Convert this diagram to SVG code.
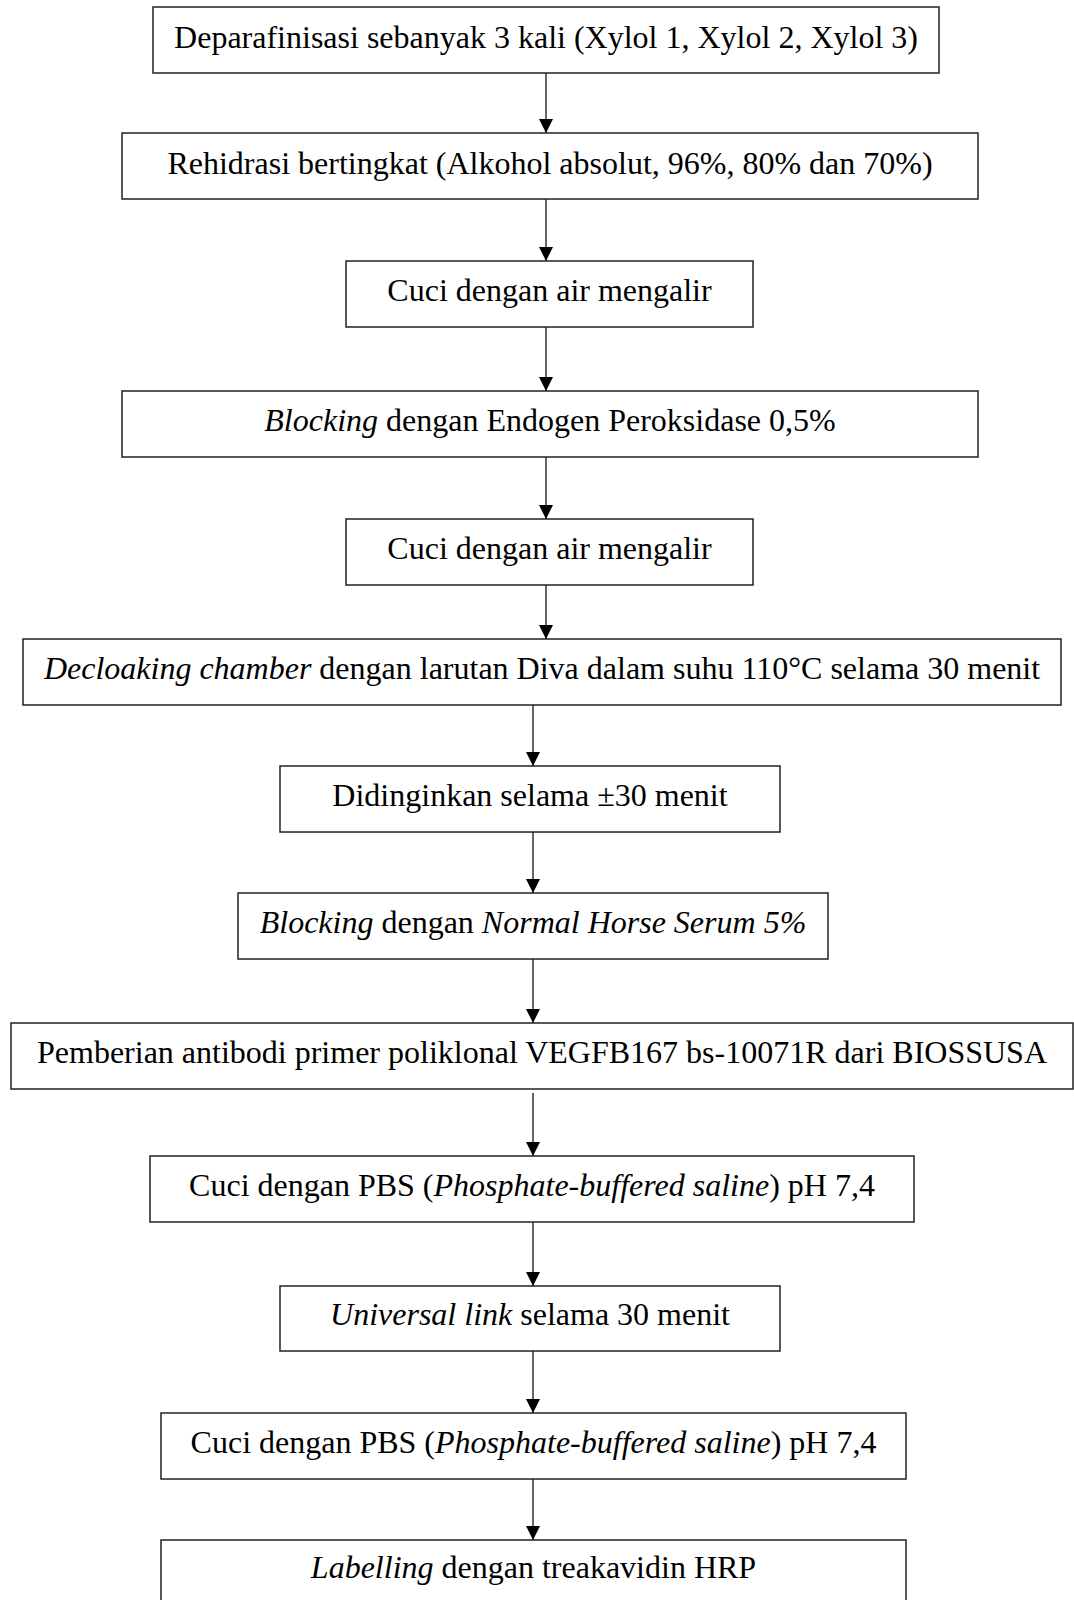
<svg xmlns="http://www.w3.org/2000/svg" width="1074" height="1600" viewBox="0 0 1074 1600">
<style>
.box{fill:#fff;stroke:#222;stroke-width:1.5}
.t{font-family:"Liberation Serif","Times New Roman",serif;font-size:32px;fill:#000;text-anchor:middle}
.i{font-style:italic}
.c{stroke:#000;stroke-width:1.2;fill:none;marker-end:url(#ah)}
</style>
<defs>
<marker id="ah" markerUnits="userSpaceOnUse" markerWidth="16" markerHeight="16" refX="14" refY="7" orient="auto">
<path d="M0,0 L14,7 L0,14 z" fill="#000"/>
</marker>
</defs>
<rect width="1074" height="1600" fill="#fff"/>
<g id="connectors">
<line class="c" x1="546" y1="73" x2="546" y2="133"/>
<line class="c" x1="546" y1="199" x2="546" y2="261"/>
<line class="c" x1="546" y1="327" x2="546" y2="391"/>
<line class="c" x1="546" y1="457" x2="546" y2="519"/>
<line class="c" x1="546" y1="585" x2="546" y2="639"/>
<line class="c" x1="533" y1="705" x2="533" y2="766"/>
<line class="c" x1="533" y1="832" x2="533" y2="893"/>
<line class="c" x1="533" y1="959" x2="533" y2="1023"/>
<line class="c" x1="533" y1="1093" x2="533" y2="1156"/>
<line class="c" x1="533" y1="1222" x2="533" y2="1286"/>
<line class="c" x1="533" y1="1351" x2="533" y2="1413"/>
<line class="c" x1="533" y1="1479" x2="533" y2="1540"/>
</g>
<g id="n1"><rect class="box" x="153" y="7" width="786" height="66"/><text class="t" x="546" y="48">Deparafinisasi sebanyak 3 kali (Xylol 1, Xylol 2, Xylol 3)</text></g>
<g id="n2"><rect class="box" x="122" y="133" width="856" height="66"/><text class="t" x="550" y="174">Rehidrasi bertingkat (Alkohol absolut, 96%, 80% dan 70%)</text></g>
<g id="n3"><rect class="box" x="346" y="261" width="407" height="66"/><text class="t" x="549.5" y="301">Cuci dengan air mengalir</text></g>
<g id="n4"><rect class="box" x="122" y="391" width="856" height="66"/><text class="t" x="550" y="431"><tspan class="i">Blocking</tspan> dengan Endogen Peroksidase 0,5%</text></g>
<g id="n5"><rect class="box" x="346" y="519" width="407" height="66"/><text class="t" x="549.5" y="559">Cuci dengan air mengalir</text></g>
<g id="n6"><rect class="box" x="23" y="639" width="1038" height="66"/><text class="t" x="542" y="679"><tspan class="i">Decloaking chamber</tspan> dengan larutan Diva dalam suhu 110°C selama 30 menit</text></g>
<g id="n7"><rect class="box" x="280" y="766" width="500" height="66"/><text class="t" x="530" y="806">Didinginkan selama ±30 menit</text></g>
<g id="n8"><rect class="box" x="238" y="893" width="590" height="66"/><text class="t" x="533" y="933"><tspan class="i">Blocking</tspan> dengan <tspan class="i">Normal Horse Serum 5%</tspan></text></g>
<g id="n9"><rect class="box" x="11" y="1023" width="1062" height="66"/><text class="t" x="542" y="1063">Pemberian antibodi primer poliklonal VEGFB167 bs-10071R dari BIOSSUSA</text></g>
<g id="n10"><rect class="box" x="150" y="1156" width="764" height="66"/><text class="t" x="532" y="1196">Cuci dengan PBS (<tspan class="i">Phosphate-buffered saline</tspan>) pH 7,4</text></g>
<g id="n11"><rect class="box" x="280" y="1286" width="500" height="65"/><text class="t" x="530" y="1325"><tspan class="i">Universal link</tspan> selama 30 menit</text></g>
<g id="n12"><rect class="box" x="161" y="1413" width="745" height="66"/><text class="t" x="533.5" y="1453">Cuci dengan PBS (<tspan class="i">Phosphate-buffered saline</tspan>) pH 7,4</text></g>
<g id="n13"><rect class="box" x="161" y="1540" width="745" height="66"/><text class="t" x="533.5" y="1578"><tspan class="i">Labelling</tspan> dengan treakavidin HRP</text></g>
</svg>
